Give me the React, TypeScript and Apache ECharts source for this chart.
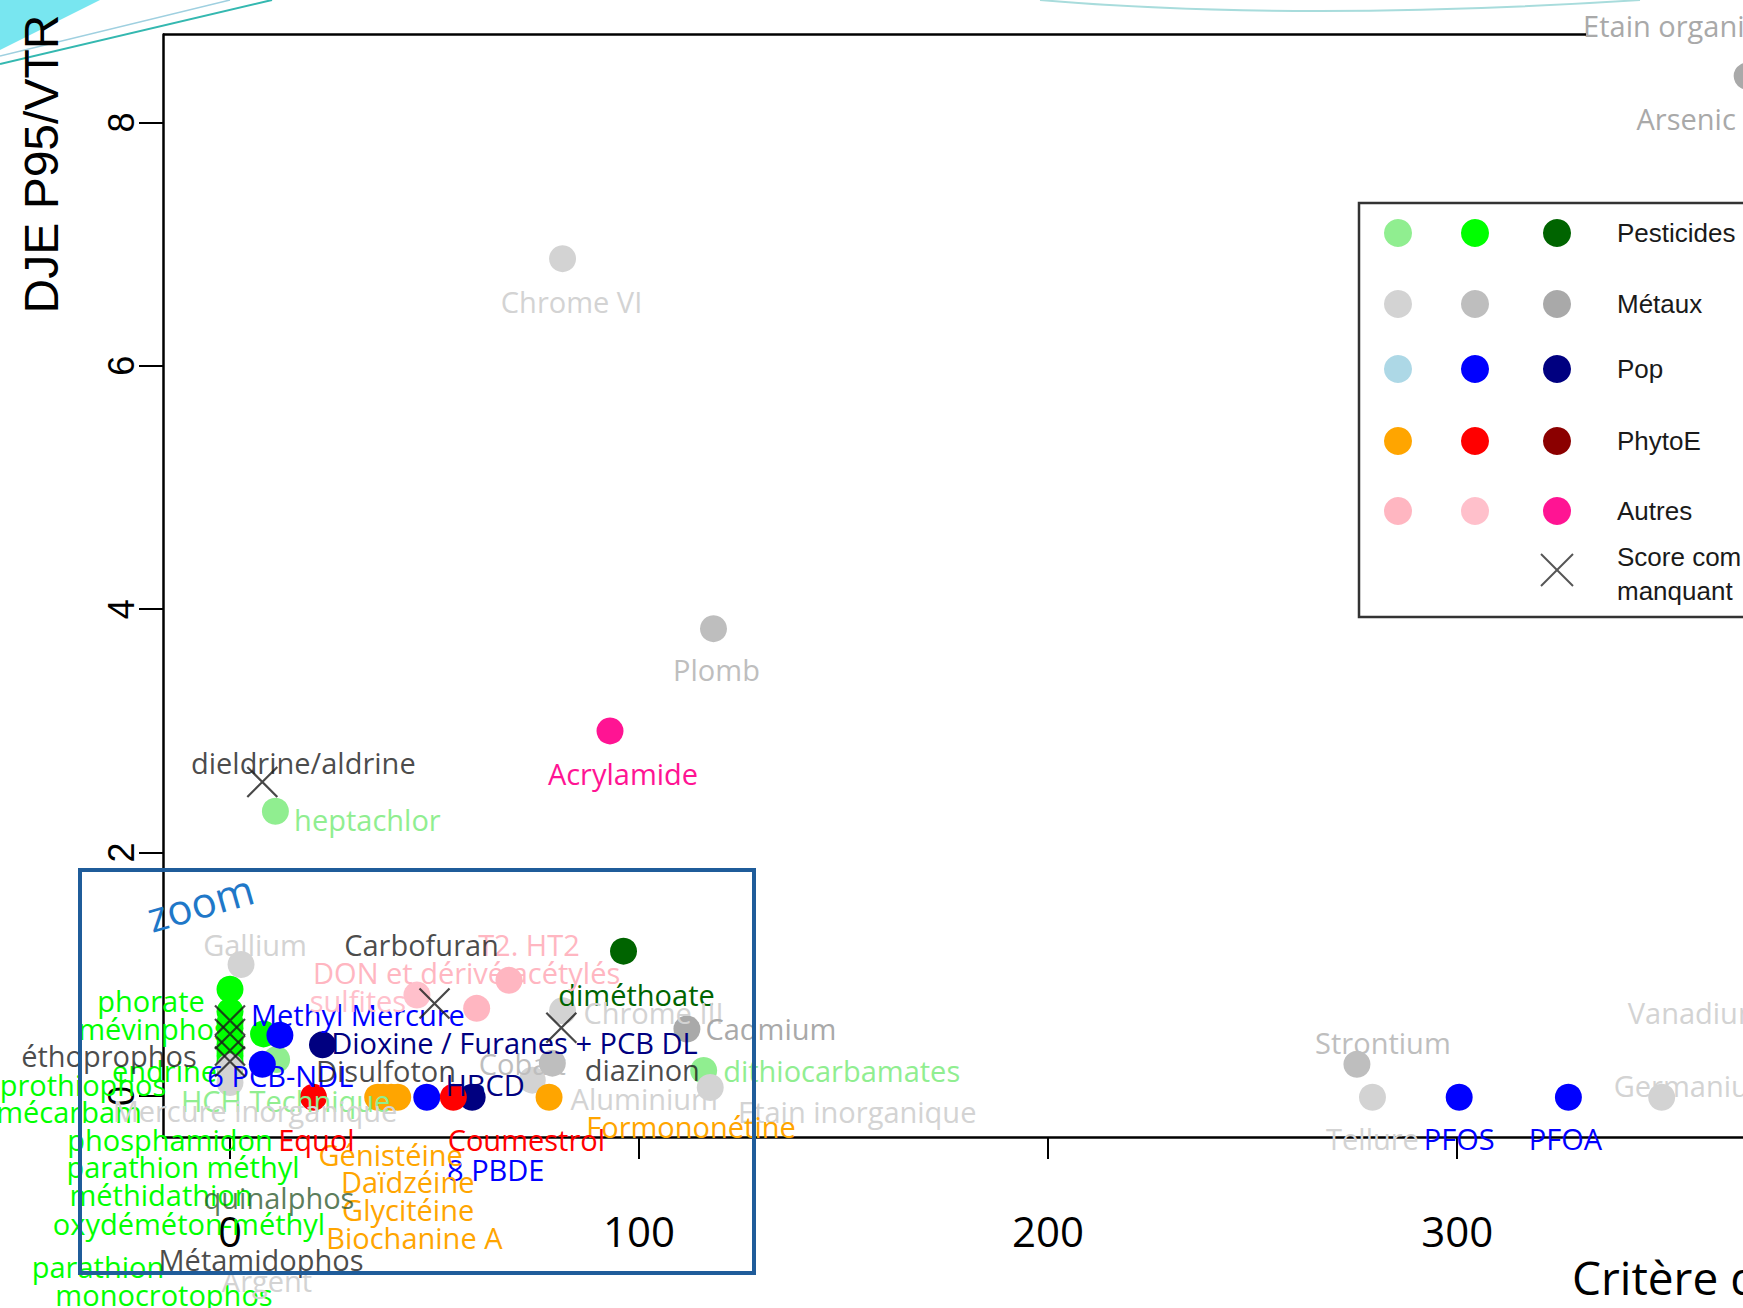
import React, { useEffect, useRef } from "react";
import * as echarts from "echarts";

// ---- Legend groups and colours ----
const groupNames = ["Pesticides", "Métaux", "Pop", "PhytoE", "Autres"];
const groupColors = [
  ["#90ee90", "#00ff00", "#006400"],
  ["#d3d3d3", "#bebebe", "#a9a9a9"],
  ["#add8e6", "#0000ff", "#000080"],
  ["#ffa500", "#ff0000", "#8b0000"],
  ["#ffb6c1", "#ffc0cb", "#ff1493"],
];
const missingLabel = "Score com\nmanquant";

// ---- Data: [name, Critère, DJE P95/VTR] ----
const pesticidesLight: [string, number, number][] = [
  ["heptachlor", 11.1, 2.34],
  ["dithiocarbamates", 115.8, 0.21],
  ["HCH Technique", 11.4, 0.3],
];
const pesticidesMid: [string, number, number][] = [
  ["phorate", 0, 0.877],
  ["mévinphos", 0, 0.694],
  ["monocrotophos", 0, 0.603],
  ["prothiophos", 0, 0.557],
  ["endrine", 8.2, 0.51],
  ["mécarbam", 0, 0.466],
  ["parathion", 0, 0.42],
  ["phosphamidon", 0, 0.374],
  ["parathion méthyl", 0, 0.329],
  ["méthidathion", 0, 0.283],
  ["oxydéméton-méthyl", 0, 0.237],
];
const pesticidesDark: [string, number, number][] = [["diméthoate", 96.2, 1.19]];
const metauxLight: [string, number, number][] = [
  ["Chrome VI", 81.3, 6.88],
  ["Gallium", 2.7, 1.08],
  ["Chrome III", 81.3, 0.7],
  ["Aluminium", 73.9, 0.13],
  ["Mercure inorganique", 0, 0.11],
  ["Etain inorganique", 117.4, 0.07],
  ["Argent", 0, 0.24],
  ["Tellure", 279.3, -0.01],
  ["Vanadium", 378.5, 0.47],
  ["Germanium", 350, -0.01],
];
const metauxMid: [string, number, number][] = [
  ["Plomb", 118.2, 3.84],
  ["Cobalt", 78.8, 0.27],
  ["Strontium", 275.5, 0.26],
];
const metauxDark: [string, number, number][] = [
  ["Arsenic", 370.9, 8.38],
  ["Etain organique", 384, 8.8],
  ["Cadmium", 111.7, 0.55],
];
const popLight: [string, number, number][] = [];
const popMid: [string, number, number][] = [
  ["Methyl Mercure", 12.2, 0.5],
  ["6 PCB-NDL", 7.9, 0.26],
  ["8 PBDE", 48.1, -0.01],
  ["PFOS", 300.5, -0.01],
  ["PFOA", 327.2, -0.01],
];
const popDark: [string, number, number][] = [
  ["Dioxine / Furanes + PCB DL", 22.6, 0.42],
  ["HBCD", 59.2, -0.01],
];
const phytoLight: [string, number, number][] = [
  ["Génistéine", 36.1, -0.01],
  ["Biochanine A", 37.5, -0.01],
  ["Glycitéine", 39.4, -0.01],
  ["Daïdzéine", 41, -0.01],
  ["Formononétine", 78, -0.01],
];
const phytoMid: [string, number, number][] = [
  ["Equol", 20.4, -0.01],
  ["Coumestrol", 54.6, -0.01],
];
const phytoDark: [string, number, number][] = [];
const autresLight: [string, number, number][] = [
  ["T2. HT2", 68.2, 0.95],
  ["DON et dérivé acétylés", 60.3, 0.72],
];
const autresMid: [string, number, number][] = [["sulfites", 45.7, 0.83]];
const autresDark: [string, number, number][] = [["Acrylamide", 92.9, 3.0]];
const scoreMissing: [string, number, number][] = [
  ["dieldrine/aldrine", 7.9, 2.58],
  ["Carbofuran", 50, 0.76],
  ["diazinon", 81, 0.56],
  ["quinalphos", 0, 0.62],
  ["éthoprophos", 0, 0.51],
  ["Disulfoton", 0, 0.374],
  ["Métamidophos", 0, 0.283],
];

// axis ticks
const xTicks = [0, 100, 200, 300, 400];
const yTicks = [0, 2, 4, 6, 8];

// ---- label placement (pixel offsets from the point centre) ----
const labelOffsets: Record<string, [number, number]> = {
  Arsenic: [-61, 42],
  "Etain organique": [-111, 0],
  "Chrome VI": [9, 43],
  Plomb: [3, 41],
  Gallium: [14, -20],
  "Chrome III": [91, 2],
  Cadmium: [84, -1],
  Cobalt: [-30, 0],
  Aluminium: [112, 18],
  "Mercure inorganique": [25, 28],
  "Etain inorganique": [147, 24],
  Argent: [37, 214],
  Strontium: [26, -22],
  Tellure: [0, 41],
  Vanadium: [-82, -26],
  Germanium: [33, -12],
  heptachlor: [92, 8],
  dithiocarbamates: [138, 0],
  "HCH Technique": [9, 41],
  phorate: [-79, 11],
  "mévinphos": [-77, 17],
  monocrotophos: [-66, 272],
  prothiophos: [-147, 56],
  endrine: [-99, 37],
  "mécarbam": [-161, 72],
  parathion: [-132, 222],
  phosphamidon: [-60, 89],
  "parathion méthyl": [-47, 111],
  "méthidathion": [-69, 133],
  "oxydéméton-méthyl": [-41, 156],
  "diméthoate": [13, 43],
  "dieldrine/aldrine": [41, -19],
  Carbofuran: [-13, -59],
  diazinon: [81, 42],
  "éthoprophos": [-121, 22],
  Disulfoton: [156, 20],
  "Métamidophos": [31, 198],
  quinalphos: [49, 177],
  "Methyl Mercure": [78, -21],
  "6 PCB-NDL": [18, 11],
  "8 PBDE": [69, 72],
  PFOS: [0, 41],
  PFOA: [-3, 41],
  "Dioxine / Furanes + PCB DL": [192, -2],
  HBCD: [13, -13],
  "Génistéine": [13, 57],
  "Daïdzéine": [10, 84],
  "Glycitéine": [17, 112],
  "Biochanine A": [31, 140],
  "Formononétine": [142, 29],
  Equol: [3, 42],
  Coumestrol: [73, 42],
  Acrylamide: [13, 43],
  "T2. HT2": [20, -36],
  "DON et dérivé acétylés": [-10, -36],
  sulfites: [-59, 6],
};

const seriesData = [
  [pesticidesLight, pesticidesMid, pesticidesDark],
  [metauxLight, metauxMid, metauxDark],
  [popLight, popMid, popDark],
  [phytoLight, phytoMid, phytoDark],
  [autresLight, autresMid, autresDark],
];

const LABEL_FONT = "'Open Sans', 'DejaVu Sans', sans-serif";
const ARIAL = "'Liberation Sans', Arial, sans-serif";

function toItems(arr: [string, number, number][], labelColor: (n: string) => string) {
  return arr.map(([name, x, y]) => ({
    name,
    value: [x, y],
    label: {
      offset: labelOffsets[name] || [0, 0],
      color: labelColor(name),
    },
  }));
}

export default function App() {
  const ref = useRef<HTMLDivElement>(null);
  useEffect(() => {
    if (!ref.current) return;
    const chart = echarts.init(ref.current, null, { renderer: "svg" });

    const labelBase = {
      show: true,
      position: "inside",
      align: "center",
      verticalAlign: "middle",
      formatter: "{b}",
      fontSize: 29,
      fontFamily: LABEL_FONT,
    };

    const series: any[] = [];
    seriesData.forEach((grp, gi) => {
      grp.forEach((arr, ci) => {
        const color = groupColors[gi][ci];
        series.push({
          type: "scatter",
          name: groupNames[gi] + ci,
          symbol: "circle",
          symbolSize: 27,
          clip: false,
          itemStyle: { color, opacity: 1 },
          label: labelBase,
          data: toItems(arr, () => color),
          z: 2,
        });
      });
    });
    series.push({
      type: "scatter",
      name: "missing",
      symbol: "path://M0 0L20 20M20 0L0 20",
      symbolSize: 30,
      clip: false,
      itemStyle: { color: "transparent", borderColor: "#1a1a1a", borderWidth: 2.2 },
      label: labelBase,
      data: toItems(scoreMissing, (n) => (n === "quinalphos" ? "#2f5a2f" : "#1a1a1a")),
      z: 3,
    });

    // legend drawn as graphic
    const legendX = [1398, 1475, 1557];
    const legendY = [233, 304, 369, 441, 511];
    const legendEls: any[] = [
      {
        type: "rect",
        shape: { x: 1359, y: 203, width: 500, height: 414 },
        style: { fill: "#fff", stroke: "#333", lineWidth: 2.5 },
        z: 10,
      },
    ];
    groupNames.forEach((g, gi) => {
      groupColors[gi].forEach((c, ci) => {
        legendEls.push({
          type: "circle",
          shape: { cx: legendX[ci], cy: legendY[gi], r: 14 },
          style: { fill: c },
          z: 11,
        });
      });
      legendEls.push({
        type: "text",
        x: 1617,
        y: legendY[gi],
        style: {
          text: g,
          fontSize: 26,
          fontFamily: ARIAL,
          fill: "#1a1a1a",
          align: "left",
          verticalAlign: "middle",
        },
        z: 11,
      });
    });
    legendEls.push(
      {
        type: "line",
        shape: { x1: 1541, y1: 554, x2: 1573, y2: 586 },
        style: { stroke: "#555", lineWidth: 2 },
        z: 11,
      },
      {
        type: "line",
        shape: { x1: 1573, y1: 554, x2: 1541, y2: 586 },
        style: { stroke: "#555", lineWidth: 2 },
        z: 11,
      },
      {
        type: "text",
        x: 1617,
        y: 574,
        style: {
          text: missingLabel,
          fontSize: 26,
          lineHeight: 34,
          fontFamily: ARIAL,
          fill: "#1a1a1a",
          align: "left",
          verticalAlign: "middle",
        },
        z: 11,
      }
    );

    const option: any = {
      animation: false,
      backgroundColor: "#fff",
      grid: {
        left: 163,
        top: 34.5,
        width: 1785,
        height: 1102.5,
        containLabel: false,
        outerBoundsMode: "none",
      },
      xAxis: {
        type: "value",
        min: -16.38,
        max: 420,
        splitLine: { show: false },
        axisLine: { onZero: false, lineStyle: { color: "#000", width: 2.5 } },
        axisTick: {
          customValues: xTicks,
          length: 22,
          lineStyle: { color: "#000", width: 2 },
        },
        axisLabel: {
          customValues: xTicks,
          fontSize: 42,
          fontFamily: LABEL_FONT,
          color: "#000",
          margin: 72,
        },
      },
      yAxis: {
        type: "value",
        min: -0.337,
        max: 8.722,
        splitLine: { show: false },
        axisLine: { onZero: false, lineStyle: { color: "#000", width: 2.5 } },
        axisTick: {
          customValues: yTicks,
          length: 24,
          lineStyle: { color: "#000", width: 2 },
        },
        axisLabel: {
          customValues: yTicks,
          rotate: 90,
          fontSize: 36,
          fontFamily: ARIAL,
          color: "#000",
          margin: 24,
        },
      },
      series,
      graphic: {
        elements: [
          {
            type: "polygon",
            shape: { points: [[0, 0], [100, 0], [0, 50]] },
            style: { fill: "#78e6f0" },
            z: 20,
          },
          {
            type: "line",
            shape: { x1: 0, y1: 64, x2: 272, y2: 0 },
            style: { stroke: "#34b8b0", lineWidth: 2 },
            z: 20,
          },
          {
            type: "line",
            shape: { x1: 0, y1: 56, x2: 230, y2: 0 },
            style: { stroke: "#9fd0e0", lineWidth: 1.5 },
            z: 20,
          },
          {
            type: "bezierCurve",
            shape: { x1: 1040, y1: 0, cpx1: 1300, cpy1: 22, x2: 1640, y2: 0 },
            style: { stroke: "#a8dcdc", lineWidth: 2, fill: null },
            z: 20,
          },
          {
            type: "line",
            shape: { x1: 163, y1: 34.5, x2: 1586, y2: 34.5 },
            style: { stroke: "#000", lineWidth: 2.5 },
            z: 5,
          },
          {
            type: "text",
            x: 41,
            y: 164,
            rotation: Math.PI / 2,
            style: {
              text: "DJE P95/VTR",
              fontSize: 48,
              fontFamily: ARIAL,
              fill: "#000",
              align: "center",
              verticalAlign: "middle",
            },
            z: 21,
          },
          {
            type: "text",
            x: 1572,
            y: 1277,
            style: {
              text: "Critère de toxicité",
              fontSize: 46,
              fontFamily: LABEL_FONT,
              fill: "#000",
              align: "left",
              verticalAlign: "middle",
            },
            z: 21,
          },
          {
            type: "rect",
            shape: { x: 80, y: 870, width: 674, height: 403 },
            style: { fill: null, stroke: "#1f5c9a", lineWidth: 4 },
            z: 15,
          },
          {
            type: "text",
            x: 200,
            y: 902,
            rotation: 0.28,
            style: {
              text: "zoom",
              fontSize: 42,
              fontFamily: LABEL_FONT,
              fill: "#1f78c8",
              align: "center",
              verticalAlign: "middle",
            },
            z: 15,
          },
          ...legendEls,
        ],
      },
    };
    chart.setOption(option);
    return () => chart.dispose();
  }, []);
  return (
    <div
      ref={ref}
      style={{ position: "fixed", left: 0, top: 0, width: 1743, height: 1308, background: "#fff" }}
    />
  );
}
